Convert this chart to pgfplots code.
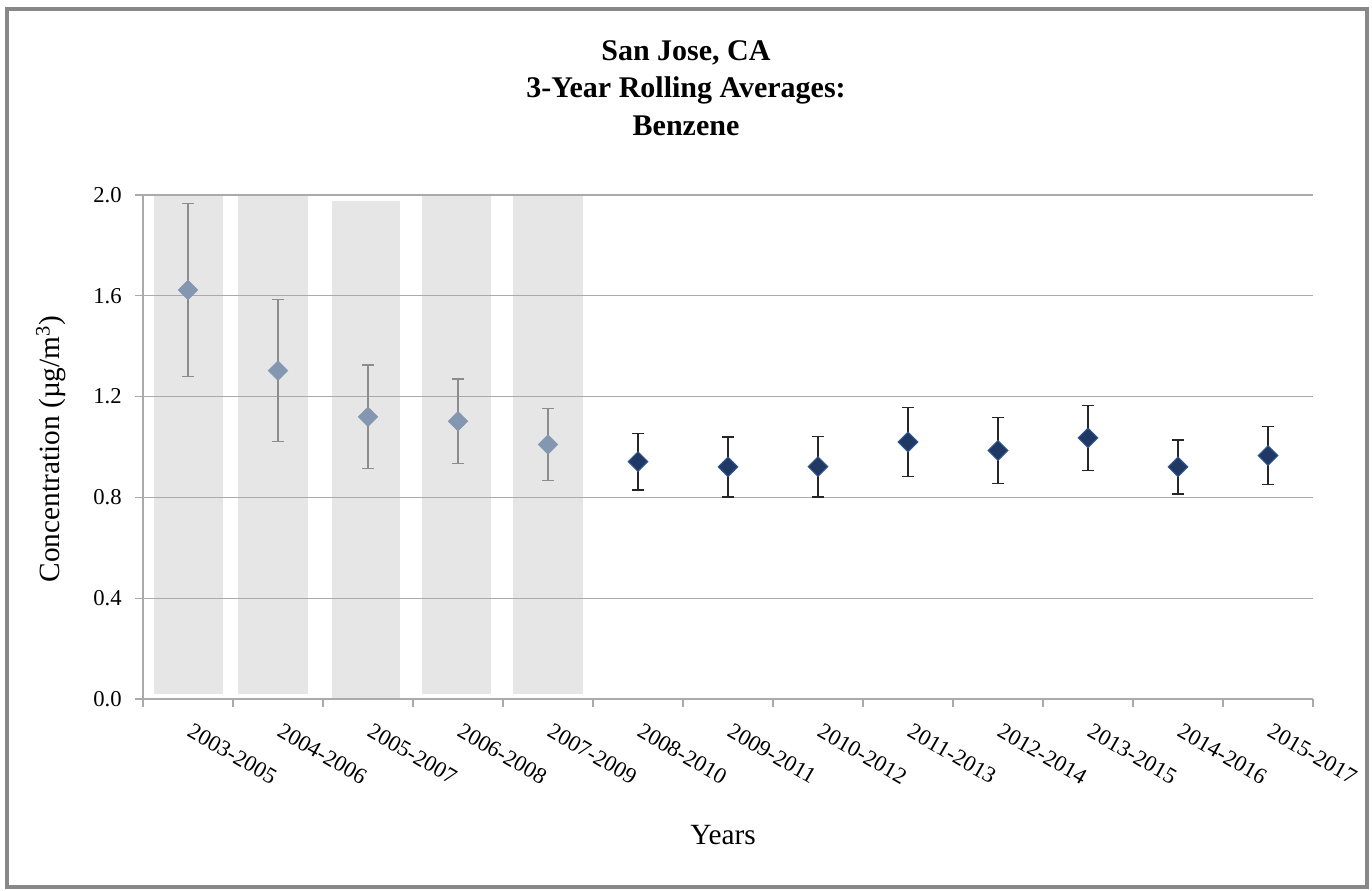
\documentclass[border=0pt]{standalone}
\usepackage{fontspec}
\setmainfont{Liberation Serif}
\usepackage{pgfplots}
\pgfplotsset{compat=1.18}
\usepackage{pgfplotstable}

\definecolor{shade}{RGB}{231,230,230}
\definecolor{gridc}{RGB}{170,170,170}
\definecolor{framec}{RGB}{135,135,135}
\definecolor{lightmk}{RGB}{132,151,176}
\definecolor{lighterr}{RGB}{140,140,140}
\definecolor{darkmk}{RGB}{31,56,100}
\definecolor{darkedge}{RGB}{47,85,151}
\definecolor{darkerr}{RGB}{38,38,38}

% 3-year rolling means with their error half-widths
\pgfplotstableread{
x y err
0 1.623 0.343
1 1.303 0.282
2 1.120 0.205
3 1.102 0.168
4 1.010 0.142
}\earlydata

\pgfplotstableread{
x y err
5 0.942 0.112
6 0.921 0.119
7 0.922 0.120
8 1.020 0.137
9 0.986 0.131
10 1.036 0.129
11 0.921 0.107
12 0.966 0.115
}\recentdata

\begin{document}
\begin{tikzpicture}
\begin{axis}[
  at={(0,0)}, anchor=south west,
  scale only axis, width=877.5pt, height=378pt,
  set layers=standard,
  xmin=-0.5, xmax=12.5, ymin=0, ymax=2.0,
  axis x line*=bottom, axis y line*=left,
  axis line style={gridc, line width=0.9pt, -},
  ymajorgrids, grid style={gridc, line width=0.9pt},
  ytick={0,0.4,0.8,1.2,1.6,2.0},
  xtick={0,...,12},
  xticklabels={2003-2005,2004-2006,2005-2007,2006-2008,2007-2009,2008-2010,2009-2011,2010-2012,2011-2013,2012-2014,2013-2015,2014-2016,2015-2017},
  minor xtick={-0.5,0.5,...,12.5},
  tick align=outside, tick pos=left,
  major tick length=6pt, minor tick length=6pt,
  major x tick style={draw=none},
  every tick/.style={gridc, line width=0.9pt},
  minor tick style={gridc, line width=0.9pt},
  /pgf/number format/assume math mode=true,
  ticklabel style={font=\fontsize{17}{20}\selectfont, text=black},
  yticklabel style={xshift=-6.5pt, /pgf/number format/.cd, fixed, fixed zerofill, precision=1},
  xticklabel style={xshift=3pt, yshift=-7pt, rotate=-30, anchor=north west},
]
% shaded background columns for the early periods
\addplot[fill=shade, draw=none, on layer=axis background] coordinates {(-0.378,0.018) (0.389,0.018) (0.389,2.0) (-0.378,2.0)};
\addplot[fill=shade, draw=none, on layer=axis background] coordinates {(0.556,0.018) (1.333,0.018) (1.333,2.0) (0.556,2.0)};
\addplot[fill=shade, draw=none, on layer=axis background] coordinates {(1.600,0.0) (2.356,0.0) (2.356,1.978) (1.600,1.978)};
\addplot[fill=shade, draw=none, on layer=axis background] coordinates {(2.600,0.018) (3.367,0.018) (3.367,2.0) (2.600,2.0)};
\addplot[fill=shade, draw=none, on layer=axis background] coordinates {(3.611,0.018) (4.389,0.018) (4.389,2.0) (3.611,2.0)};

\addplot[only marks, mark=square*, mark size=5.2pt,
  mark options={rotate=45, fill=lightmk, draw=lightmk},
  error bars/.cd, y dir=both, y explicit,
  error bar style={color=lighterr, line width=1.1pt},
  error mark options={rotate=90, color=lighterr, line width=1.1pt, mark size=4.5pt}]
  table[x=x, y=y, y error=err] {\earlydata};

\addplot[only marks, mark=square*, mark size=5.2pt,
  mark options={rotate=45, fill=darkmk, draw=darkedge, line width=0.8pt},
  error bars/.cd, y dir=both, y explicit,
  error bar style={color=darkerr, line width=1.1pt},
  error mark options={rotate=90, color=darkerr, line width=1.1pt, mark size=4.2pt}]
  table[x=x, y=y, y error=err] {\recentdata};
\end{axis}

\begin{scope}[x=0.75pt, y=0.75pt]
\draw[framec, line width=3pt] (-136,-188) rectangle (1224,690);
\node[align=center, font=\bfseries\fontsize{22.5}{28}\selectfont] at (543,611)
  {San Jose, CA\\3-Year Rolling Averages:\\Benzene};
\node[rotate=90, font=\fontsize{22}{26}\selectfont] at (-92,250)
  {Concentration (µg/m\textsuperscript{3})};
\node[font=\fontsize{22}{26}\selectfont] at (580,-136) {Years};
\path (-143,-191) rectangle (1229,699);
\end{scope}
\end{tikzpicture}
\end{document}
